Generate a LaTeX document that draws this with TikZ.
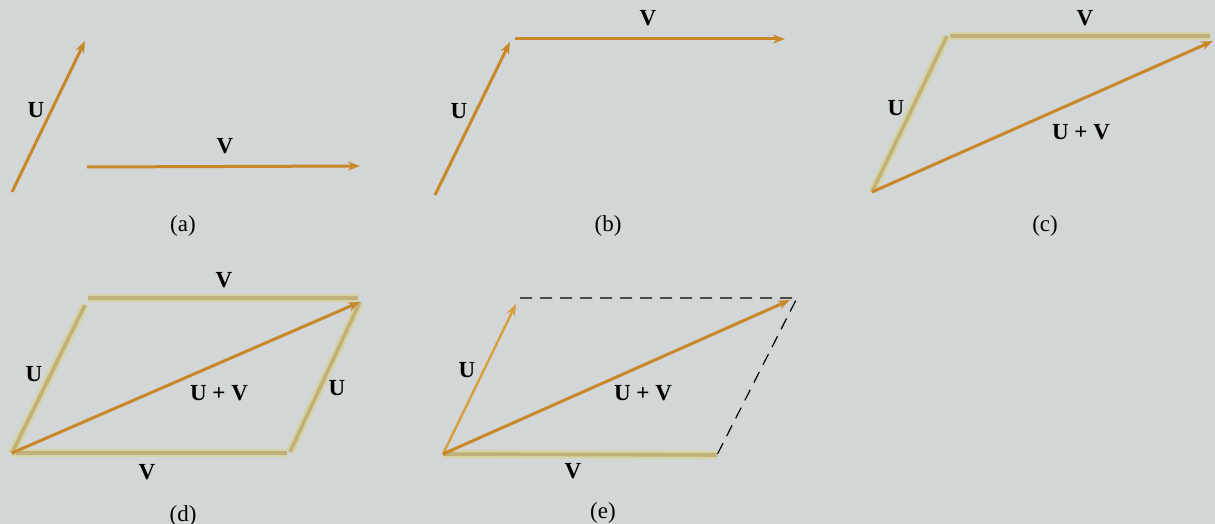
\documentclass[tikz,border=0pt]{standalone}
\usepackage{fontspec}
\setmainfont{Liberation Serif}
\usetikzlibrary{arrows.meta}
\definecolor{bg}{RGB}{210,214,214}
\definecolor{vec}{RGB}{200,136,42}
\definecolor{vecU}{RGB}{214,160,60}
\definecolor{fadeout}{RGB}{212,212,165}
\definecolor{fadein}{RGB}{194,176,122}
\tikzset{
  vecarrow/.style={draw=vec, line width=1.5pt, -{Stealth[length=6pt,width=4.5pt]}},
  vecarrowU/.style={draw=vecU, line width=1.2pt, -{Stealth[length=6pt,width=4.5pt]}},
  fadeline/.style={draw=fadeout, line width=4.2pt},
  fadecore/.style={draw=fadein, line width=1.8pt},
  dashline/.style={draw=black, line width=0.6pt, dash pattern=on 6pt off 4pt},
  lbl/.style={font=\bfseries\fontsize{11.5}{13}\selectfont, inner sep=0pt},
  subcap/.style={font=\fontsize{11.5}{13}\selectfont, inner sep=0pt}
}
\begin{document}
\begin{tikzpicture}[x=0.5pt,y=-0.5pt]
\fill[bg] (0,0) rectangle (1215,524);
\useasboundingbox (0,0) rectangle (1215,524);
% (a)
\coordinate (a0) at (12,192); \coordinate (a1) at (85,41);
\coordinate (a2) at (87,167); \coordinate (a3) at (360,166);
\draw[vecarrow] (a0) -- (a1);
\draw[vecarrow] (a2) -- (a3);
\node[lbl] (aU) at (36,110) {U};
\node[lbl] (aV) at (225,146) {V};
\node[subcap] (ca) at (183,226) {(a)};
% (b)
\coordinate (b0) at (435,195); \coordinate (b1) at (510,42);
\coordinate (b2) at (515,39); \coordinate (b3) at (785,39);
\draw[vecarrow] (b0) -- (b1);
\draw[vecarrow] (b2) -- (b3);
\node[lbl] (bU) at (459,111) {U};
\node[lbl] (bV) at (648,18) {V};
\node[subcap] (cb) at (608,226) {(b)};
% (c)
\coordinate (c0) at (872,192); \coordinate (c1) at (947,36);
\coordinate (c1b) at (950,36);
\coordinate (c2) at (1210,36); \coordinate (c3) at (1213,41);
\foreach \p/\q in {c0/c1, c1b/c2} {
  \draw[fadeline] (\p) -- (\q);
  \draw[fadecore] (\p) -- (\q);
}
\draw[vecarrow] (c0) -- (c3);
\node[lbl] (cU) at (896,108) {U};
\node[lbl] (cV) at (1085,18) {V};
\node[lbl] (cUV) at (1081,132) {U + V};
\node[subcap] (cc) at (1045,226) {(c)};
% (d)
\coordinate (d0) at (12,453); \coordinate (d1) at (287,453);
\coordinate (d1b) at (290,452); \coordinate (d2) at (360,302);
\coordinate (d2b) at (358,298); \coordinate (d3) at (88,298);
\coordinate (d3b) at (85,305);
\foreach \p/\q in {d0/d1, d1b/d2, d3/d2b, d0/d3b} {
  \draw[fadeline] (\p) -- (\q);
  \draw[fadecore] (\p) -- (\q);
}
\draw[vecarrow] (d0) -- (d2);
\node[lbl] (dVt) at (224,280) {V};
\node[lbl] (dUl) at (34,374) {U};
\node[lbl] (dUV) at (219,393) {U + V};
\node[lbl] (dUr) at (337,388) {U};
\node[lbl] (dVb) at (147,472) {V};
\node[subcap] (cd) at (183,516) {(d)};
% (e)
\coordinate (e0) at (443,454); \coordinate (e1) at (516,304);
\coordinate (e2) at (717,455); \coordinate (e3) at (790,300);
\coordinate (e4) at (520,298); \coordinate (e5) at (797,298);
\draw[dashline] (e4) -- (e5) -- (e2);
\draw[fadeline] (e0) -- (e2);
\draw[fadecore] (e0) -- (e2);
\draw[vecarrowU] (e0) -- (e1);
\draw[vecarrow] (e0) -- (e3);
\node[lbl] (eU) at (467,370) {U};
\node[lbl] (eUV) at (643,393) {U + V};
\node[lbl] (eV) at (573,471) {V};
\node[subcap] (ce) at (603,513) {(e)};
\end{tikzpicture}
\end{document}
